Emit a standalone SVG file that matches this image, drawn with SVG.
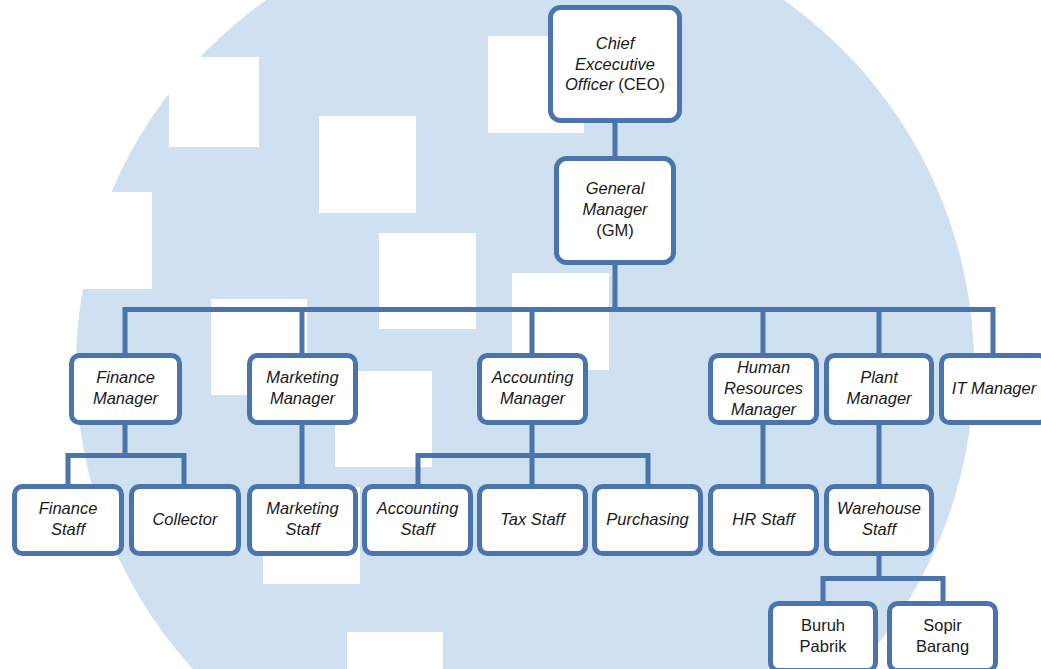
<svg xmlns="http://www.w3.org/2000/svg" width="1041" height="669" viewBox="0 0 1041 669">
<style>
.box{fill:#ffffff;stroke:#4a74ab;stroke-width:5}
.ln{fill:none;stroke:#4a74ab;stroke-width:5;stroke-linejoin:miter}
text{font-family:"Liberation Sans",Arial,sans-serif;font-size:16.5px;fill:#1a1a1a;text-anchor:middle}
.it{font-style:italic}
.sq{fill:#ffffff}
</style>
<rect width="1041" height="669" fill="#ffffff"/>
<g id="background">
<circle cx="525" cy="367" r="449" fill="#cfe0f0"/>
<rect class="sq" x="169" y="57" width="90" height="90"/>
<rect class="sq" x="319" y="116" width="97" height="97"/>
<rect class="sq" x="488" y="36" width="96" height="97"/>
<rect class="sq" x="55" y="192" width="97" height="97"/>
<rect class="sq" x="379" y="233" width="97" height="96"/>
<rect class="sq" x="512" y="273" width="97" height="97"/>
<rect class="sq" x="211" y="299" width="96" height="96"/>
<rect class="sq" x="335" y="371" width="97" height="96"/>
<rect class="sq" x="263" y="487" width="97" height="97"/>
<rect class="sq" x="347" y="632" width="96" height="96"/>
</g>
<g id="connectors">
<path class="ln" d="M615 120V158"/>
<path class="ln" d="M615 262V309.5"/>
<path class="ln" d="M125 356V309.5H993V356"/>
<path class="ln" d="M302 309.5V356M532 309.5V356M763 309.5V356M879 309.5V356"/>
<path class="ln" d="M125 422V455.5M68 487V455.5H184V487"/>
<path class="ln" d="M302 422V487"/>
<path class="ln" d="M532 422V487M418 487V455.5H648V487"/>
<path class="ln" d="M763 422V487"/>
<path class="ln" d="M879 422V487"/>
<path class="ln" d="M879 553V578.5M823 604V578.5H943V604"/>
</g>
<g id="ceo"><rect class="box" x="550.5" y="7.5" width="129" height="113" rx="10"/>
<text x="615" y="49" class="it">Chief</text><text x="615" y="70" class="it">Excecutive</text><text x="615" y="90"><tspan class="it">Officer</tspan> (CEO)</text></g>
<g id="gm"><rect class="box" x="556.5" y="158.5" width="117" height="104" rx="10"/>
<text x="615" y="194" class="it">General</text><text x="615" y="215" class="it">Manager</text><text x="615" y="236">(GM)</text></g>
<g id="finance-manager"><rect class="box" x="71.5" y="355.5" width="108" height="67" rx="8"/>
<text x="125.5" y="383" class="it">Finance</text><text x="125.5" y="404" class="it">Manager</text></g>
<g id="marketing-manager"><rect class="box" x="249.5" y="355.5" width="106" height="67" rx="8"/>
<text x="302.5" y="383" class="it">Marketing</text><text x="302.5" y="404" class="it">Manager</text></g>
<g id="accounting-manager"><rect class="box" x="479.5" y="355.5" width="106" height="67" rx="8"/>
<text x="532.5" y="383" class="it">Accounting</text><text x="532.5" y="404" class="it">Manager</text></g>
<g id="hr-manager"><rect class="box" x="710.5" y="355.5" width="106" height="67" rx="8"/>
<text x="763.5" y="373" class="it">Human</text><text x="763.5" y="394" class="it">Resources</text><text x="763.5" y="415" class="it">Manager</text></g>
<g id="plant-manager"><rect class="box" x="826.5" y="355.5" width="105" height="67" rx="8"/>
<text x="879" y="383" class="it">Plant</text><text x="879" y="404" class="it">Manager</text></g>
<g id="it-manager"><rect class="box" x="941.5" y="355.5" width="105" height="67" rx="8"/>
<text x="994" y="394" class="it">IT Manager</text></g>
<g id="finance-staff"><rect class="box" x="14.5" y="486.5" width="107" height="67" rx="8"/>
<text x="68" y="514" class="it">Finance</text><text x="68" y="535" class="it">Staff</text></g>
<g id="collector"><rect class="box" x="131.5" y="486.5" width="107" height="67" rx="8"/>
<text x="185" y="525" class="it">Collector</text></g>
<g id="marketing-staff"><rect class="box" x="249.5" y="486.5" width="106" height="67" rx="8"/>
<text x="302.5" y="514" class="it">Marketing</text><text x="302.5" y="535" class="it">Staff</text></g>
<g id="accounting-staff"><rect class="box" x="364.5" y="486.5" width="106" height="67" rx="8"/>
<text x="417.5" y="514" class="it">Accounting</text><text x="417.5" y="535" class="it">Staff</text></g>
<g id="tax-staff"><rect class="box" x="479.5" y="486.5" width="106" height="67" rx="8"/>
<text x="532.5" y="525" class="it">Tax Staff</text></g>
<g id="purchasing"><rect class="box" x="594.5" y="486.5" width="106" height="67" rx="8"/>
<text x="647.5" y="525" class="it">Purchasing</text></g>
<g id="hr-staff"><rect class="box" x="710.5" y="486.5" width="106" height="67" rx="8"/>
<text x="763.5" y="525" class="it">HR Staff</text></g>
<g id="warehouse-staff"><rect class="box" x="826.5" y="486.5" width="105" height="67" rx="8"/>
<text x="879" y="514" class="it">Warehouse</text><text x="879" y="535" class="it">Staff</text></g>
<g id="buruh-pabrik"><rect class="box" x="770.5" y="603.5" width="105" height="67" rx="8"/>
<text x="823" y="631" >Buruh</text><text x="823" y="652">Pabrik</text></g>
<g id="sopir-barang"><rect class="box" x="889.5" y="603.5" width="106" height="67" rx="8"/>
<text x="942.5" y="631">Sopir</text><text x="942.5" y="652">Barang</text></g>
</svg>
